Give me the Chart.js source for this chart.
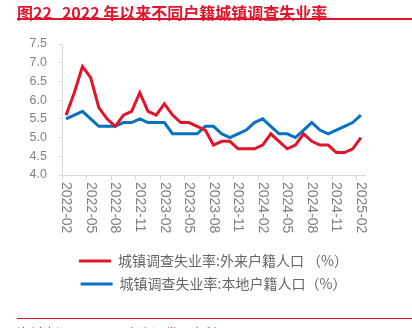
<!DOCTYPE html>
<html>
<head>
<meta charset="utf-8">
<script src="https://cdn.jsdelivr.net/npm/chart.js@4.4.1/dist/chart.umd.min.js"></script>
<style>
  body { margin: 0; background: #fff; }
  #wrap { position: relative; width: 412px; height: 328px; overflow: hidden; }
  #chart { position: absolute; left: 0; top: 0; }
  .title {
    position: absolute; left: 17px; top: 0; height: 16px; line-height: 16px;
    font: bold 16px "Noto Sans CJK SC", sans-serif; color: #e0142a; white-space: pre;
  }
  .title span { margin-left: 10px; }
  .rule { position: absolute; left: 17px; right: 0; background: #e0142a; }
  .source {
    position: absolute; left: 17px; top: 322.5px;
    font: 13px "Noto Sans CJK SC", sans-serif; color: #e0142a; white-space: pre;
  }
</style>
</head>
<body>
<div id="wrap">
  <canvas id="chart" width="412" height="328"></canvas>
  <div class="title">图22<span>2022 年以来不同户籍城镇调查失业率</span></div>
  <div class="rule" style="top:18px;height:2px"></div>
  <div class="rule" style="top:318px;height:1px"></div>
  <div class="source">资料来源：Wind，东海证券研究所</div>
</div>
<script>
// monthly points, 2022-02 .. 2025-02
const months = [
  "2022-02", "2022-03", "2022-04", "2022-05", "2022-06", "2022-07", "2022-08", "2022-09", "2022-10", "2022-11", "2022-12",
  "2023-01", "2023-02", "2023-03", "2023-04", "2023-05", "2023-06", "2023-07", "2023-08", "2023-09", "2023-10", "2023-11", "2023-12",
  "2024-01", "2024-02", "2024-03", "2024-04", "2024-05", "2024-06", "2024-07", "2024-08", "2024-09", "2024-10", "2024-11", "2024-12",
  "2025-01", "2025-02"
];

// 外来户籍人口
const migrantRate = [
  5.6, 6.2, 6.9, 6.6, 5.8, 5.5, 5.3, 5.6, 5.7, 6.2, 5.7,
  5.6, 5.9, 5.6, 5.4, 5.4, 5.3, 5.2, 4.8, 4.9, 4.9, 4.7, 4.7,
  4.7, 4.8, 5.1, 4.9, 4.7, 4.8, 5.1, 4.9, 4.8, 4.8, 4.6, 4.6,
  4.7, 5.0
];

// 本地户籍人口
const localRate = [
  5.5, 5.6, 5.7, 5.5, 5.3, 5.3, 5.3, 5.4, 5.4, 5.5, 5.4,
  5.4, 5.4, 5.1, 5.1, 5.1, 5.1, 5.3, 5.3, 5.1, 5.0, 5.1, 5.2,
  5.4, 5.5, 5.3, 5.1, 5.1, 5.0, 5.2, 5.4, 5.2, 5.1, 5.2, 5.3,
  5.4, 5.6
];

const tickLabels = [
  "2022-02", "2022-05", "2022-08", "2022-11", "2023-02", "2023-05", "2023-08",
  "2023-11", "2024-02", "2024-05", "2024-08", "2024-11", "2025-02"
];

const seriesNames = [
  "城镇调查失业率:外来户籍人口 （%）",
  "城镇调查失业率:本地户籍人口（%）"
];

const RED = "#e0142a";
const BLUE = "#0a70c0";
const AXIS = "#d9d9d9";
const LABEL = "#808080";

const toPoints = arr => arr.map((v, i) => ({ x: i, y: v }));

// x labels read top-to-bottom, so draw them ourselves
const xLabelPlugin = {
  id: "xLabels",
  afterDraw(chart) {
    const ctx = chart.ctx;
    const x = chart.scales.x;
    ctx.save();
    ctx.font = '14px "Liberation Sans", Arial, sans-serif';
    ctx.fillStyle = LABEL;
    ctx.textAlign = "left";
    ctx.textBaseline = "middle";
    tickLabels.forEach(label => {
      const px = x.getPixelForValue(months.indexOf(label));
      ctx.save();
      ctx.translate(px, x.top + 7);
      ctx.rotate(Math.PI / 2);
      ctx.fillText(label, 0, 0);
      ctx.restore();
    });
    ctx.restore();
  }
};

new Chart(document.getElementById("chart"), {
  type: "line",
  data: {
    datasets: [
      {
        label: seriesNames[0],
        data: toPoints(migrantRate),
        borderColor: RED,
        backgroundColor: RED,
        borderWidth: 3,
        pointRadius: 0,
        tension: 0
      },
      {
        label: seriesNames[1],
        data: toPoints(localRate),
        borderColor: BLUE,
        backgroundColor: BLUE,
        borderWidth: 3,
        pointRadius: 0,
        tension: 0
      }
    ]
  },
  options: {
    responsive: false,
    animation: false,
    devicePixelRatio: 1,
    layout: {
      padding: { top: 44, left: 22, right: 47, bottom: 27 }
    },
    plugins: {
      legend: {
        position: "bottom",
        fullSize: false,
        labels: {
          usePointStyle: true,
          pointStyle: "line",
          pointStyleWidth: 32,
          padding: 9,
          color: "#666",
          font: { size: 14, family: '"Noto Sans CJK SC", sans-serif' }
        }
      },
      tooltip: { enabled: false }
    },
    scales: {
      x: {
        type: "linear",
        min: -0.5,
        max: 36.5,
        afterBuildTicks: axis => {
          axis.ticks = tickLabels.map((_, k) => ({ value: 3 * k - 0.5 }));
        },
        afterFit: scale => { scale.height = 70; },
        ticks: { display: false },
        grid: { drawOnChartArea: false, tickLength: 5, color: AXIS },
        border: { color: AXIS }
      },
      y: {
        min: 4,
        max: 7.5,
        afterFit: scale => { scale.width = 40; },
        ticks: {
          stepSize: 0.5,
          padding: 12,
          color: LABEL,
          font: { size: 12.5, family: '"Liberation Sans", Arial, sans-serif' },
          callback: v => v.toFixed(1)
        },
        grid: { drawOnChartArea: false, tickLength: 3, color: AXIS },
        border: { color: AXIS }
      }
    }
  },
  plugins: [xLabelPlugin]
});
</script>
</body>
</html>
